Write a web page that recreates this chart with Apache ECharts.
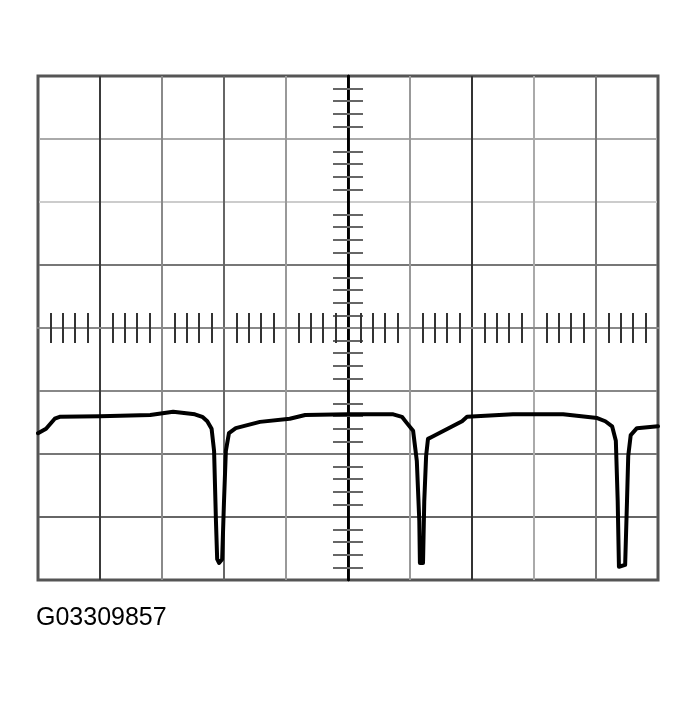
<!DOCTYPE html>
<html><head><meta charset="utf-8">
<script src="https://cdn.jsdelivr.net/npm/echarts@6/dist/echarts.min.js"></script>
<style>html,body{margin:0;padding:0;background:#fff}#c{width:699px;height:703px}</style>
</head><body><div id="c"></div>
<script>
// waveform: time in divisions from screen centre (-5..5), voltage in divisions (-4..4)
const timeDiv = [-5,-4.87,-4.73,-4.65,-4.0,-3.19,-2.82,-2.47,-2.35,-2.27,-2.20,-2.16,-2.13,-2.11,-2.08,-2.03,-2.0,-1.97,-1.92,-1.81,-1.42,-0.94,-0.69,0,0.73,0.87,0.95,1.05,1.11,1.15,1.16,1.21,1.23,1.26,1.29,1.35,1.84,1.92,2.66,3.47,4.02,4.15,4.26,4.32,4.35,4.37,4.47,4.50,4.52,4.56,4.66,5.0];
const voltDiv = [-1.67,-1.60,-1.44,-1.41,-1.40,-1.38,-1.33,-1.37,-1.41,-1.48,-1.60,-1.95,-3.06,-3.67,-3.73,-3.67,-2.75,-1.95,-1.67,-1.59,-1.49,-1.44,-1.38,-1.37,-1.37,-1.41,-1.51,-1.63,-2.11,-3.06,-3.73,-3.73,-2.75,-2.03,-1.76,-1.73,-1.48,-1.41,-1.37,-1.37,-1.43,-1.48,-1.56,-1.79,-2.75,-3.79,-3.76,-2.75,-2.03,-1.70,-1.59,-1.56];
const caption = 'G03309857';

const chart = echarts.init(document.getElementById('c'));
const vLineColors = ['#555','#3a3a3a','#8a8a8a','#666','#999','#000','#999','#333','#aaa','#777','#555'];
const hLineColors = ['#555','#666','#777','#888','#888','#777','#ccc','#aaa','#555'];
const centerX = (inside, color) => ({
  type:'value', min:-5, max:5, interval:1, gridIndex:0,
  axisLine:{show:true, onZero:true, onZeroAxisIndex:0, lineStyle:{color:'#888', width:2}},
  axisTick:{show:false, inside:inside},
  minorTick:{show:true, splitNumber:5, length:15, lineStyle:{color:color, width:2}},
  axisLabel:{show:false}, splitLine:{show:false}
});
const centerY = (inside, color) => ({
  type:'value', min:-4, max:4, interval:1, gridIndex:0,
  axisLine:{show:true, onZero:true, onZeroAxisIndex:0, lineStyle:{color:'#000', width:2.5}},
  axisTick:{show:false, inside:inside},
  minorTick:{show:true, splitNumber:5, length:15, lineStyle:{color:color, width:2}},
  axisLabel:{show:false}, splitLine:{show:false}
});
chart.setOption({
  animation:false,
  grid:{left:38, right:41, top:76, bottom:123, show:true, borderColor:'#555', borderWidth:3, backgroundColor:'#fff'},
  xAxis:[
    {type:'value', min:-5, max:5, interval:1, axisLine:{show:false}, axisTick:{show:false}, axisLabel:{show:false},
     splitLine:{show:true, lineStyle:{color:vLineColors, width:2}}},
    centerX(true, '#333'), centerX(false, '#333')
  ],
  yAxis:[
    {type:'value', min:-4, max:4, interval:1, axisLine:{show:false}, axisTick:{show:false}, axisLabel:{show:false},
     splitLine:{show:true, lineStyle:{color:hLineColors, width:2}}},
    centerY(true, '#666'), centerY(false, '#666')
  ],
  series:[{
    type:'line', xAxisIndex:0, yAxisIndex:0, showSymbol:false, symbol:'none', smooth:false,
    lineStyle:{color:'#000', width:4, join:'round', cap:'round'},
    data: timeDiv.map((t,i)=>[t, voltDiv[i]]), z:10
  }],
  graphic:[{type:'text', left:36, top:606, style:{text:caption, font:'25px "Liberation Sans", Arial, sans-serif', fill:'#000'}}]
});
</script></body></html>
